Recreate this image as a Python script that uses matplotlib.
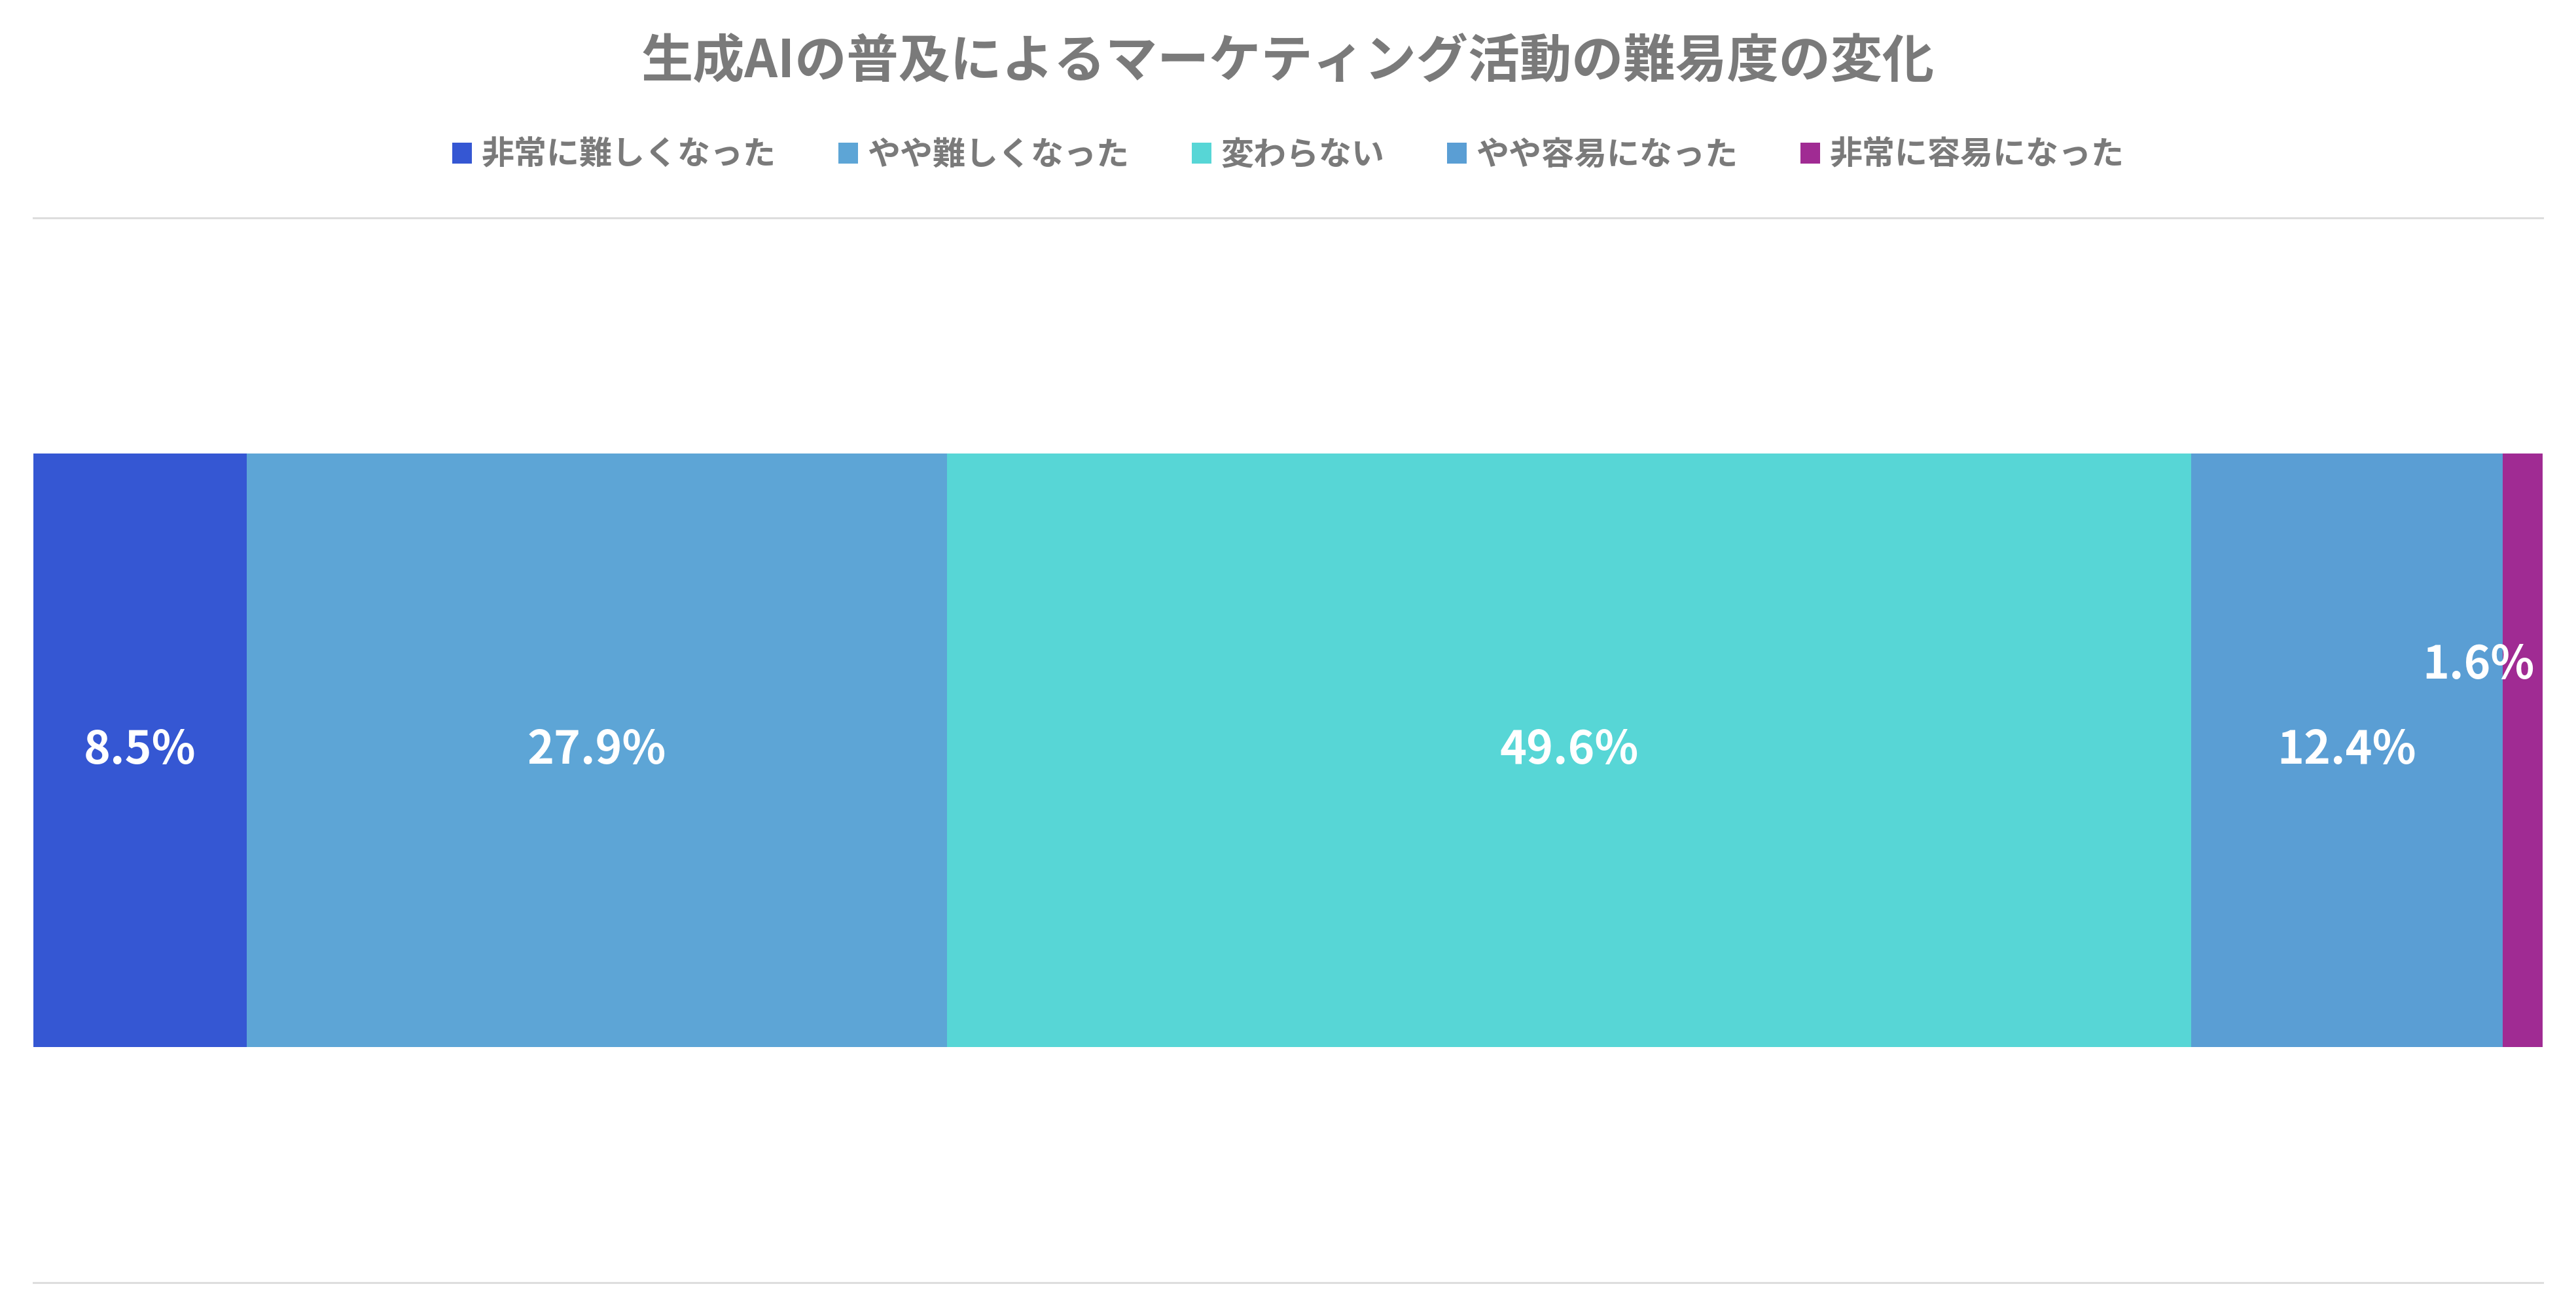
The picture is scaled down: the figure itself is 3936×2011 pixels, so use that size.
import matplotlib.pyplot as plt
from matplotlib.patches import Patch

plt.rcParams['font.family'] = ['Noto Sans CJK JP', 'DejaVu Sans']

# Data
title = '生成AIの普及によるマーケティング活動の難易度の変化'
categories = ['非常に難しくなった', 'やや難しくなった', '変わらない', 'やや容易になった', '非常に容易になった']
values = [8.5, 27.9, 49.6, 12.4, 1.6]
colors = ['#3557D3', '#5DA5D6', '#57D6D6', '#5A9ED4', '#A02B93']
text_gray = '#7a7a7a'

fig = plt.figure(figsize=(39.36, 20.11), dpi=100)
ax = fig.add_axes([51 / 3936, 1 - 1960 / 2011, (3885 - 51) / 3936, (1960 - 333) / 2011])

left = 0
for cat, val, col in zip(categories, values, colors):
    ax.barh(0, val, left=left, height=0.558, color=col, label=cat)
    center = left + val / 2
    if val < 5:
        ax.annotate(f'{val}%', (center, 0), xytext=(-67, 130), textcoords='offset pixels',
                    ha='center', va='center', color='white', fontsize=50, fontweight='bold')
    else:
        ax.text(center, 0, f'{val}%', ha='center', va='center', color='white',
                fontsize=50, fontweight='bold')
    left += val

ax.set_xlim(0, sum(values))
ax.set_ylim(-0.5, 0.5)
ax.set_xticks([])
ax.set_yticks([])
for s in ['left', 'right']:
    ax.spines[s].set_visible(False)
for s in ['top', 'bottom']:
    ax.spines[s].set_color('#dddddd')
    ax.spines[s].set_linewidth(2.2)

fig.text(0.5, 1 - 95 / 2011, title, ha='center', va='center', fontsize=57,
         fontweight='bold', color=text_gray)

handles = [Patch(facecolor=c, edgecolor='none') for c in colors]
fig.legend(handles, categories, loc='center', bbox_to_anchor=(0.5, 1 - 237 / 2011),
           ncol=5, frameon=False, handlelength=0.6, handleheight=0.6,
           handletextpad=0.3, columnspacing=1.9, labelcolor=text_gray,
           prop={'weight': 'bold', 'size': 36})

fig.savefig('out.png', dpi=100, facecolor='white')
